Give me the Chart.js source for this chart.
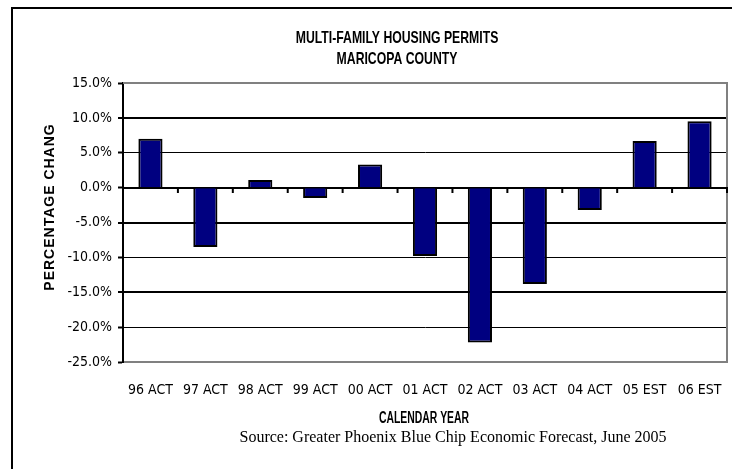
<!DOCTYPE html>
<html>
<head>
<meta charset="utf-8">
<script src="https://cdn.jsdelivr.net/npm/chart.js@4.4.1/dist/chart.umd.min.js"></script>
<style>
  html, body { margin: 0; padding: 0; background: #fff; }
  #wrap { width: 732px; height: 469px; }
</style>
</head>
<body>
<div id="wrap"><canvas id="chart" width="732" height="469"></canvas></div>
<script>
// categories and values
const years = ['96 ACT', '97 ACT', '98 ACT', '99 ACT', '00 ACT', '01 ACT', '02 ACT', '03 ACT', '04 ACT', '05 EST', '06 EST'];
const pctChange = [7.0, -8.5, 1.1, -1.5, 3.3, -9.8, -22.2, -13.8, -3.2, 6.7, 9.5];

const titleLines = ['MULTI-FAMILY HOUSING PERMITS', 'MARICOPA COUNTY'];
const xTitle = 'CALENDAR YEAR';
const yTitle = 'PERCENTAGE CHANG';
const sourceNote = 'Source: Greater Phoenix Blue Chip Economic Forecast, June 2005';

const tickFont = "'Liberation Sans Narrow', 'Arial Narrow', 'DejaVu Sans Condensed', sans-serif";
const sans = "'Liberation Sans', Arial, sans-serif";

// draws text squeezed horizontally, to look like Arial Narrow
function narrowText(ctx, text, x, y, font, squeeze) {
  ctx.save();
  ctx.font = font;
  ctx.translate(x, y);
  ctx.scale(squeeze, 1);
  ctx.fillText(text, 0, 0);
  ctx.restore();
}

// extra drawing: frame, zero line with ticks, titles
const decor = {
  id: 'decor',
  beforeDraw(chart) {
    const ctx = chart.ctx;
    ctx.save();
    ctx.fillStyle = '#fff';
    ctx.fillRect(0, 0, chart.width, chart.height);
    // outer frame (only left and top visible)
    ctx.strokeStyle = '#000';
    ctx.lineWidth = 2;
    ctx.beginPath();
    ctx.moveTo(12, chart.height);
    ctx.lineTo(12, 8);
    ctx.lineTo(chart.width, 8);
    ctx.stroke();
    ctx.restore();
  },
  beforeDatasetsDraw(chart) {
    const { ctx, chartArea: a, scales } = chart;
    const x = scales.x, y = scales.y;
    ctx.save();
    // plot frame in grey
    ctx.strokeStyle = '#808080';
    ctx.lineWidth = 2;
    ctx.beginPath();
    ctx.moveTo(a.left, a.top);
    ctx.lineTo(a.right, a.top);
    ctx.lineTo(a.right, a.bottom);
    ctx.stroke();
    // zero line with category ticks
    const y0 = Math.round(y.getPixelForValue(0));
    ctx.strokeStyle = '#000';
    ctx.lineWidth = 2;
    ctx.beginPath();
    ctx.moveTo(a.left, y0);
    ctx.lineTo(a.right + 1, y0);
    ctx.stroke();
    ctx.beginPath();
    for (let i = 1; i <= years.length; i++) {
      let bx;
      if (i < years.length) bx = (x.getPixelForTick(i - 1) + x.getPixelForTick(i)) / 2;
      else bx = a.right;
      ctx.moveTo(bx, y0);
      ctx.lineTo(bx, y0 + 5);
    }
    ctx.stroke();
    ctx.restore();
  },
  afterDraw(chart) {
    const ctx = chart.ctx;
    ctx.save();
    ctx.fillStyle = '#000';
    ctx.textAlign = 'center';
    ctx.textBaseline = 'middle';
    narrowText(ctx, titleLines[0], 397, 38, 'bold 17px ' + sans, 0.72);
    narrowText(ctx, titleLines[1], 397, 59, 'bold 17px ' + sans, 0.72);
    narrowText(ctx, xTitle, 424, 419, 'bold 16px ' + sans, 0.65);
    ctx.font = "16px 'Liberation Serif', 'Times New Roman', serif";
    ctx.fillText(sourceNote, 453, 438);
    // y title, rotated
    ctx.translate(50, 207);
    ctx.rotate(-Math.PI / 2);
    ctx.font = 'bold 14px ' + sans;
    ctx.letterSpacing = '1px';
    ctx.fillText(yTitle, 0, 0);
    ctx.restore();
  }
};

new Chart(document.getElementById('chart'), {
  type: 'bar',
  data: {
    labels: years,
    datasets: [{
      data: pctChange,
      backgroundColor: '#000080',
      borderColor: '#000',
      borderWidth: 2,
      barPercentage: 0.44,
      categoryPercentage: 1.0
    }]
  },
  options: {
    responsive: false,
    animation: false,
    layout: { padding: { left: 0, top: 83, right: 5, bottom: 67 } },
    plugins: {
      legend: { display: false },
      tooltip: { enabled: false }
    },
    scales: {
      x: {
        afterFit(scale) {
          scale.height = 40;
          scale.paddingLeft = 0;
          scale.paddingRight = 0;
        },
        grid: { display: false, drawTicks: false },
        border: { display: true, color: '#808080', width: 2 },
        ticks: {
          color: '#000',
          padding: 20,
          maxRotation: 0,
          autoSkip: false,
          font: { family: tickFont, size: 14 }
        }
      },
      y: {
        min: -25,
        max: 15,
        afterFit(scale) { scale.width = 123; },
        ticks: {
          stepSize: 5,
          color: '#000',
          padding: 6,
          font: { family: tickFont, size: 14 },
          callback: v => v.toFixed(1) + '%'
        },
        grid: {
          color: '#000',
          tickColor: '#000',
          tickLength: 5,
          lineWidth: c => ([10, -5, -15].includes(c.tick.value) ? 2 : 1),
          tickWidth: 2
        },
        border: { display: true, color: '#000', width: 2 }
      }
    }
  },
  plugins: [decor]
});
</script>
</body>
</html>
